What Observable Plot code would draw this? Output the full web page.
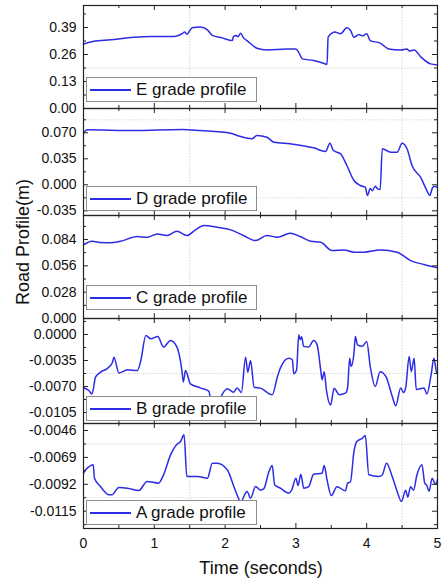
<!DOCTYPE html>
<html><head><meta charset="utf-8">
<script src="https://cdn.jsdelivr.net/npm/d3@7"></script>
<script src="https://cdn.jsdelivr.net/npm/@observablehq/plot@0.6"></script>
<style>
body{margin:0;background:#fff;font-family:"Liberation Sans",Arial,sans-serif;}
#chart{position:relative;width:443px;height:582px;overflow:hidden;background:#fff;}
.panel{position:absolute;left:0;}
.legend{position:absolute;left:86px;width:171px;height:25px;background:#fff;border:1px solid #8c8c8c;box-sizing:border-box;}
.lline{position:absolute;left:3px;top:11px;width:41px;height:1.6px;background:#2c2ce6;}
.ltext{position:absolute;left:49px;top:1px;font-size:17px;line-height:22px;color:#111;white-space:nowrap;}
.ytitle{position:absolute;left:23px;top:242px;transform:translate(-50%,-50%) rotate(-90deg);font-size:18px;white-space:nowrap;color:#111;}
.xtitle{position:absolute;left:261px;top:568px;transform:translate(-50%,-50%);font-size:18px;white-space:nowrap;color:#111;}
</style>
</head><body>
<div id="chart"></div>
<script>
// ---- data ----
const gradeNames = ["E", "D", "C", "B", "A"];

const gradeE = [[0,0.311],[0.146,0.324],[0.38,0.331],[0.71,0.343],[0.95,0.347],[1.28,0.347],[1.39,0.36],[1.43,0.368],[1.46,0.358],[1.535,0.389],[1.65,0.392],[1.75,0.379],[1.82,0.352],[1.96,0.340],[2.10,0.327],[2.12,0.347],[2.16,0.352],[2.18,0.345],[2.22,0.362],[2.26,0.34],[2.31,0.327],[2.45,0.290],[2.59,0.282],[2.88,0.286],[3.0,0.286],[3.04,0.27],[3.09,0.239],[3.25,0.231],[3.39,0.218],[3.44,0.212],[3.455,0.343],[3.51,0.363],[3.55,0.368],[3.63,0.36],[3.72,0.389],[3.77,0.377],[3.82,0.343],[3.89,0.356],[3.94,0.350],[4.0,0.360],[4.05,0.327],[4.19,0.315],[4.31,0.287],[4.48,0.282],[4.57,0.287],[4.6,0.277],[4.67,0.282],[4.76,0.250],[4.90,0.215],[5.0,0.210]];

const gradeD = [[0,0.0695],[0.02,0.072],[0.05,0.074],[0.71,0.073],[1.39,0.0745],[1.65,0.073],[2.08,0.0695],[2.17,0.0664],[2.38,0.062],[2.45,0.0664],[2.59,0.064],[2.69,0.0574],[2.92,0.0552],[3.25,0.0498],[3.42,0.0448],[3.48,0.056],[3.53,0.0462],[3.63,0.0417],[3.72,0.026],[3.82,0.0058],[3.91,-0.0009],[3.98,-0.0032],[4.01,-0.0144],[4.05,-0.005],[4.08,-0.008],[4.12,-0.002],[4.15,-0.005],[4.19,-0.0063],[4.22,0.0485],[4.34,0.0439],[4.43,0.0439],[4.50,0.056],[4.57,0.0485],[4.64,0.026],[4.76,0.0102],[4.85,-0.0077],[4.89,-0.0144],[4.93,-0.004],[4.96,-0.002],[5.0,-0.004]];

const gradeC = [[0,0.0784],[0.12,0.0822],[0.25,0.0808],[0.38,0.0805],[0.52,0.0822],[0.76,0.0872],[0.90,0.0865],[1.04,0.090],[1.18,0.0883],[1.32,0.0929],[1.46,0.0883],[1.58,0.0943],[1.70,0.0989],[1.89,0.0971],[2.08,0.0943],[2.26,0.0883],[2.43,0.0829],[2.59,0.0883],[2.74,0.0865],[2.92,0.0907],[3.06,0.0872],[3.21,0.0822],[3.35,0.0811],[3.51,0.0723],[3.68,0.073],[3.82,0.0705],[3.96,0.0705],[4.19,0.073],[4.43,0.0705],[4.62,0.0616],[4.81,0.0574],[5.0,0.0539]];

const gradeB = [[0,-0.00718],[0.075,-0.00754],[0.12,-0.0080],[0.17,-0.00575],[0.24,-0.00507],[0.33,-0.00462],[0.41,-0.00373],[0.43,-0.00305],[0.50,-0.0052],[0.62,-0.00475],[0.76,-0.00485],[0.81,-0.0035],[0.88,-0.00013],[0.95,-0.00058],[1.05,-0.00027],[1.13,-0.0017],[1.23,-0.0008],[1.32,-0.0017],[1.39,-0.00485],[1.41,-0.0064],[1.44,-0.00485],[1.51,-0.00664],[1.65,-0.00718],[1.77,-0.00763],[1.80,-0.0090],[1.85,-0.0096],[1.89,-0.0095],[1.93,-0.0086],[2.03,-0.0073],[2.12,-0.00776],[2.17,-0.0072],[2.23,-0.0078],[2.29,-0.00305],[2.32,-0.00507],[2.36,-0.0035],[2.41,-0.0071],[2.50,-0.00722],[2.665,-0.0081],[2.74,-0.00565],[2.78,-0.00453],[2.90,-0.0032],[2.95,-0.0034],[2.97,-0.0053],[3.01,-0.00475],[3.04,-0.00004],[3.06,-0.0007],[3.08,-0.0003],[3.11,-0.0016],[3.18,-0.0017],[3.25,-0.0008],[3.30,-0.0014],[3.35,-0.00475],[3.37,-0.0061],[3.40,-0.005],[3.43,-0.0074],[3.49,-0.0095],[3.54,-0.00722],[3.61,-0.0081],[3.70,-0.0079],[3.73,-0.0072],[3.76,-0.0032],[3.78,-0.0043],[3.82,-0.0025],[3.84,-0.00027],[3.87,-0.0014],[3.94,-0.0016],[4.0,-0.00094],[4.05,-0.0043],[4.12,-0.007],[4.19,-0.005],[4.27,-0.00565],[4.36,-0.0083],[4.41,-0.0096],[4.48,-0.0072],[4.52,-0.0078],[4.55,-0.0072],[4.60,-0.00296],[4.63,-0.005],[4.67,-0.0032],[4.70,-0.0074],[4.81,-0.0072],[4.85,-0.008],[4.91,-0.0054],[4.95,-0.0032],[4.99,-0.0052],[5.0,-0.0052]];

const gradeA = [[0,-0.00825],[0.03,-0.00796],[0.10,-0.0076],[0.137,-0.00753],[0.155,-0.00868],[0.24,-0.00939],[0.36,-0.0101],[0.40,-0.0101],[0.50,-0.00947],[0.62,-0.00953],[0.78,-0.00973],[0.90,-0.00896],[1.06,-0.0091],[1.13,-0.00839],[1.23,-0.00668],[1.32,-0.00577],[1.37,-0.00554],[1.42,-0.00497],[1.46,-0.00853],[1.61,-0.00853],[1.75,-0.00868],[1.82,-0.0074],[1.89,-0.0074],[2.03,-0.00796],[2.15,-0.00981],[2.22,-0.01067],[2.31,-0.00981],[2.36,-0.01039],[2.43,-0.00939],[2.50,-0.0097],[2.545,-0.0096],[2.62,-0.0081],[2.665,-0.0076],[2.70,-0.00924],[2.78,-0.00953],[2.90,-0.00996],[2.94,-0.0097],[3.0,-0.00868],[3.03,-0.0093],[3.07,-0.00834],[3.11,-0.00953],[3.18,-0.0094],[3.25,-0.00834],[3.37,-0.00825],[3.40,-0.0076],[3.44,-0.00882],[3.50,-0.01016],[3.58,-0.0094],[3.70,-0.00976],[3.73,-0.0091],[3.77,-0.0090],[3.82,-0.0064],[3.86,-0.00554],[3.94,-0.00526],[3.98,-0.00503],[4.03,-0.00839],[4.17,-0.00853],[4.22,-0.0084],[4.28,-0.0074],[4.36,-0.00853],[4.43,-0.00981],[4.49,-0.01067],[4.55,-0.0097],[4.58,-0.0103],[4.62,-0.0094],[4.66,-0.0097],[4.71,-0.00839],[4.78,-0.00753],[4.82,-0.0091],[4.85,-0.0093],[4.88,-0.0098],[4.925,-0.00868],[4.97,-0.0092],[5.0,-0.0088]];

const xDomain = [0, 5];
const xMajorTicks = [0, 1, 2, 3, 4, 5];
const xMinorTicks = [0.5, 1.5, 2.5, 3.5, 4.5];
const xGrid = [1.5, 4.5];

const yDomains = [[0, 0.496], [-0.0413, 0.1027], [0, 0.1096], [-0.01198, 0.00215], [-0.01298, -0.0040]];
const yMajorTicks = [
  [0, 0.13, 0.26, 0.39],
  [-0.035, 0, 0.035, 0.070],
  [0, 0.028, 0.056, 0.084],
  [-0.0105, -0.007, -0.0035, 0],
  [-0.0115, -0.0092, -0.0069, -0.0046]
];
const yMinorTicks = [
  [0.065, 0.195, 0.325, 0.455],
  [-0.0175, 0.0175, 0.0525, 0.0875],
  [0.014, 0.042, 0.070, 0.098],
  [-0.00875, -0.00525, -0.00175, 0.00175],
  [-0.01265, -0.01035, -0.00805, -0.00575]
];
const yDecimals = [2, 3, 3, 4, 4];
const yGrid = [[0.195], [0.0875, -0.0175], [], [-0.00525], [-0.00575, -0.01035]];
const seriesList = [gradeE, gradeD, gradeC, gradeB, gradeA];
const legendLabels = gradeNames.map(g => g + " grade profile");
const xTitle = "Time (seconds)";
const yTitle = "Road Profile(m)";

// ---- layout ----
const W = 443, ML = 83, MR = 6;
const edges = [5, 108, 215, 318, 423, 528];
const legendTops = [77, 186, 285, 396, 500];
const BLUE = "#2c2ce6";
const INK = "#222";

const chart = document.getElementById("chart");
const plotW = W - ML - MR;

seriesList.forEach((data, i) => {
  const isLast = i === seriesList.length - 1;
  const mt = 8, mb = isLast ? 54 : 8;
  const plotH = edges[i + 1] - edges[i];
  const h = plotH + mt + mb;
  const dec = yDecimals[i];
  const marks = [
    Plot.ruleX(xGrid, {stroke: "#d8d8d8", strokeDasharray: "1.5,1.5"}),
    Plot.ruleY(yGrid[i], {stroke: "#d8d8d8", strokeDasharray: "1.5,1.5"}),
    Plot.line(data, {x: d => d[0], y: d => d[1], stroke: BLUE, strokeWidth: 1.5, curve: "monotone-x"}),
    Plot.tickY(yMajorTicks[i], {y: d => d, insetRight: plotW - 5, stroke: INK}),
    Plot.tickY(yMinorTicks[i], {y: d => d, insetRight: plotW - 3, stroke: INK}),
    Plot.tickY(yMajorTicks[i], {y: d => d, insetLeft: plotW - 5, stroke: INK}),
    Plot.tickY(yMinorTicks[i], {y: d => d, insetLeft: plotW - 3, stroke: INK}),
    Plot.tickX(xMajorTicks, {x: d => d, insetTop: plotH - 5, stroke: INK}),
    Plot.tickX(xMinorTicks, {x: d => d, insetTop: plotH - 3, stroke: INK}),
    Plot.tickX(xMajorTicks, {x: d => d, insetBottom: plotH - 5, stroke: INK}),
    Plot.tickX(xMinorTicks, {x: d => d, insetBottom: plotH - 3, stroke: INK}),
    Plot.axisY(yMajorTicks[i], {tickSize: 0, tickPadding: 7, fontSize: 14, label: null, tickFormat: d => d.toFixed(dec)}),
    Plot.frame({stroke: INK, strokeWidth: 1.2})
  ];
  if (isLast) marks.push(Plot.axisX(xMajorTicks, {tickSize: 0, tickPadding: 10, fontSize: 14, label: null}));
  const svg = Plot.plot({
    width: W, height: h,
    marginLeft: ML, marginRight: MR, marginTop: mt, marginBottom: mb,
    x: {domain: xDomain, axis: isLast ? undefined : null},
    y: {domain: yDomains[i]},
    style: {background: "transparent", overflow: "visible", fontFamily: "'Liberation Sans', Arial, sans-serif", color: "#111"},
    marks
  });
  svg.classList.add("panel");
  svg.style.top = (edges[i] - mt) + "px";
  chart.appendChild(svg);
});

legendLabels.forEach((label, i) => {
  const box = document.createElement("div");
  box.className = "legend";
  box.style.top = legendTops[i] + "px";
  const ln = document.createElement("span"); ln.className = "lline";
  const tx = document.createElement("span"); tx.className = "ltext"; tx.textContent = label;
  box.appendChild(ln); box.appendChild(tx);
  chart.appendChild(box);
});

const yt = document.createElement("div"); yt.className = "ytitle"; yt.textContent = yTitle; chart.appendChild(yt);
const xt = document.createElement("div"); xt.className = "xtitle"; xt.textContent = xTitle; chart.appendChild(xt);
</script>
</body></html>
